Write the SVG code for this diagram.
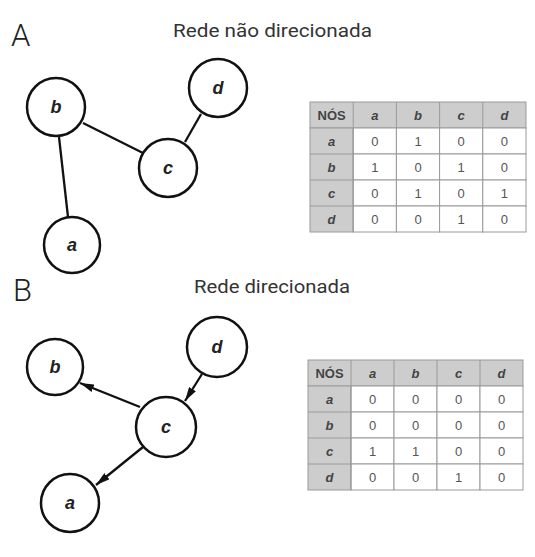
<svg xmlns="http://www.w3.org/2000/svg" width="535" height="557" viewBox="0 0 535 557">
<style>
.node circle{fill:#fff;stroke:#111;stroke-width:2.5}
.node text{font-family:"Liberation Sans",Arial,sans-serif;font-weight:bold;font-style:italic;font-size:18px;fill:#222;text-anchor:middle}
.edge{stroke:#111;stroke-width:2.3;fill:none}
.panel{font-family:Roboto,"Noto Sans",sans-serif;font-weight:300;font-size:31px;fill:#222}
.title{font-family:Roboto,"Noto Sans",sans-serif;font-size:18px;fill:#333}
.hd{fill:#cdcdcd;stroke:#9a9a9a;stroke-width:1}
.cl{fill:#fff;stroke:#9a9a9a;stroke-width:1}
.tb text{font-family:"Liberation Sans",Arial,sans-serif;font-size:13px;text-anchor:middle}
.tb .h{font-weight:bold;font-style:italic;fill:#444}
.tb .n{font-weight:bold;fill:#444;font-style:normal}
.tb .v{fill:#555}
</style>
<defs>
<marker id="arr" viewBox="0 0 14 8" refX="14" refY="4" markerWidth="14" markerHeight="8" markerUnits="userSpaceOnUse" orient="auto">
<path d="M0,0 L14,4 L0,8 Z" fill="#111"/>
</marker>
</defs>
<rect width="535" height="557" fill="#fff"/>
<text class="panel" x="11" y="46">A</text>
<text class="title" x="173" y="37" textLength="199" lengthAdjust="spacingAndGlyphs">Rede não direcionada</text>
<text class="panel" x="13" y="301">B</text>
<text class="title" x="194" y="293" textLength="156" lengthAdjust="spacingAndGlyphs">Rede direcionada</text>

<g id="connectors">
<line class="edge" x1="59" y1="137" x2="68" y2="217"/>
<line class="edge" x1="83" y1="123" x2="143" y2="153"/>
<line class="edge" x1="185" y1="142" x2="201" y2="114"/>
<line class="edge" x1="140" y1="407" x2="80" y2="383" marker-end="url(#arr)"/>
<line class="edge" x1="202" y1="374" x2="185" y2="401" marker-end="url(#arr)"/>
<line class="edge" x1="143" y1="447" x2="96" y2="485" marker-end="url(#arr)"/>
</g>

<g id="A-b" class="node"><circle cx="56" cy="107" r="29"/><text x="56" y="113">b</text></g>
<g id="A-d" class="node"><circle cx="218" cy="88" r="29"/><text x="218" y="94">d</text></g>
<g id="A-c" class="node"><circle cx="168" cy="168" r="29"/><text x="168" y="174">c</text></g>
<g id="A-a" class="node"><circle cx="72" cy="245" r="28"/><text x="72" y="251">a</text></g>

<g id="B-b" class="node"><circle cx="55" cy="367" r="28"/><text x="55" y="373">b</text></g>
<g id="B-d" class="node"><circle cx="217" cy="347" r="30"/><text x="217" y="353">d</text></g>
<g id="B-c" class="node"><circle cx="166" cy="427" r="30"/><text x="166" y="433">c</text></g>
<g id="B-a" class="node"><circle cx="70" cy="503" r="29"/><text x="70" y="509">a</text></g>

<g id="tableA" class="tb">
<rect class="hd" x="310" y="102" width="216" height="26"/>
<rect class="hd" x="310" y="128" width="43.2" height="104"/>
<g class="cl">
<rect x="353.2" y="128" width="43.2" height="26"/><rect x="396.4" y="128" width="43.2" height="26"/><rect x="439.6" y="128" width="43.2" height="26"/><rect x="482.8" y="128" width="43.2" height="26"/>
<rect x="353.2" y="154" width="43.2" height="26"/><rect x="396.4" y="154" width="43.2" height="26"/><rect x="439.6" y="154" width="43.2" height="26"/><rect x="482.8" y="154" width="43.2" height="26"/>
<rect x="353.2" y="180" width="43.2" height="26"/><rect x="396.4" y="180" width="43.2" height="26"/><rect x="439.6" y="180" width="43.2" height="26"/><rect x="482.8" y="180" width="43.2" height="26"/>
<rect x="353.2" y="206" width="43.2" height="26"/><rect x="396.4" y="206" width="43.2" height="26"/><rect x="439.6" y="206" width="43.2" height="26"/><rect x="482.8" y="206" width="43.2" height="26"/>
</g>
<g fill="none" stroke="#9a9a9a" stroke-width="1">
<line x1="353.2" y1="102" x2="353.2" y2="232"/><line x1="396.4" y1="102" x2="396.4" y2="128"/><line x1="439.6" y1="102" x2="439.6" y2="128"/><line x1="482.8" y1="102" x2="482.8" y2="128"/>
<line x1="310" y1="154" x2="353.2" y2="154"/><line x1="310" y1="180" x2="353.2" y2="180"/><line x1="310" y1="206" x2="353.2" y2="206"/>
</g>
<text class="n" x="331.6" y="120">NÓS</text>
<text class="h" x="374.8" y="120">a</text><text class="h" x="418" y="120">b</text><text class="h" x="461.2" y="120">c</text><text class="h" x="504.4" y="120">d</text>
<text class="h" x="331.6" y="146">a</text><text class="h" x="331.6" y="172">b</text><text class="h" x="331.6" y="198">c</text><text class="h" x="331.6" y="224">d</text>
<text class="v" x="374.8" y="146">0</text><text class="v" x="418" y="146">1</text><text class="v" x="461.2" y="146">0</text><text class="v" x="504.4" y="146">0</text>
<text class="v" x="374.8" y="172">1</text><text class="v" x="418" y="172">0</text><text class="v" x="461.2" y="172">1</text><text class="v" x="504.4" y="172">0</text>
<text class="v" x="374.8" y="198">0</text><text class="v" x="418" y="198">1</text><text class="v" x="461.2" y="198">0</text><text class="v" x="504.4" y="198">1</text>
<text class="v" x="374.8" y="224">0</text><text class="v" x="418" y="224">0</text><text class="v" x="461.2" y="224">1</text><text class="v" x="504.4" y="224">0</text>
</g>

<g id="tableB" class="tb">
<rect class="hd" x="308" y="360" width="215" height="26"/>
<rect class="hd" x="308" y="386" width="43" height="104"/>
<g class="cl">
<rect x="351" y="386" width="43" height="26"/><rect x="394" y="386" width="43" height="26"/><rect x="437" y="386" width="43" height="26"/><rect x="480" y="386" width="43" height="26"/>
<rect x="351" y="412" width="43" height="26"/><rect x="394" y="412" width="43" height="26"/><rect x="437" y="412" width="43" height="26"/><rect x="480" y="412" width="43" height="26"/>
<rect x="351" y="438" width="43" height="26"/><rect x="394" y="438" width="43" height="26"/><rect x="437" y="438" width="43" height="26"/><rect x="480" y="438" width="43" height="26"/>
<rect x="351" y="464" width="43" height="26"/><rect x="394" y="464" width="43" height="26"/><rect x="437" y="464" width="43" height="26"/><rect x="480" y="464" width="43" height="26"/>
</g>
<g fill="none" stroke="#9a9a9a" stroke-width="1">
<line x1="351" y1="360" x2="351" y2="490"/><line x1="394" y1="360" x2="394" y2="386"/><line x1="437" y1="360" x2="437" y2="386"/><line x1="480" y1="360" x2="480" y2="386"/>
<line x1="308" y1="412" x2="351" y2="412"/><line x1="308" y1="438" x2="351" y2="438"/><line x1="308" y1="464" x2="351" y2="464"/>
</g>
<text class="n" x="329.5" y="378">NÓS</text>
<text class="h" x="372.5" y="378">a</text><text class="h" x="415.5" y="378">b</text><text class="h" x="458.5" y="378">c</text><text class="h" x="501.5" y="378">d</text>
<text class="h" x="329.5" y="404">a</text><text class="h" x="329.5" y="430">b</text><text class="h" x="329.5" y="456">c</text><text class="h" x="329.5" y="482">d</text>
<text class="v" x="372.5" y="404">0</text><text class="v" x="415.5" y="404">0</text><text class="v" x="458.5" y="404">0</text><text class="v" x="501.5" y="404">0</text>
<text class="v" x="372.5" y="430">0</text><text class="v" x="415.5" y="430">0</text><text class="v" x="458.5" y="430">0</text><text class="v" x="501.5" y="430">0</text>
<text class="v" x="372.5" y="456">1</text><text class="v" x="415.5" y="456">1</text><text class="v" x="458.5" y="456">0</text><text class="v" x="501.5" y="456">0</text>
<text class="v" x="372.5" y="482">0</text><text class="v" x="415.5" y="482">0</text><text class="v" x="458.5" y="482">1</text><text class="v" x="501.5" y="482">0</text>
</g>
</svg>
